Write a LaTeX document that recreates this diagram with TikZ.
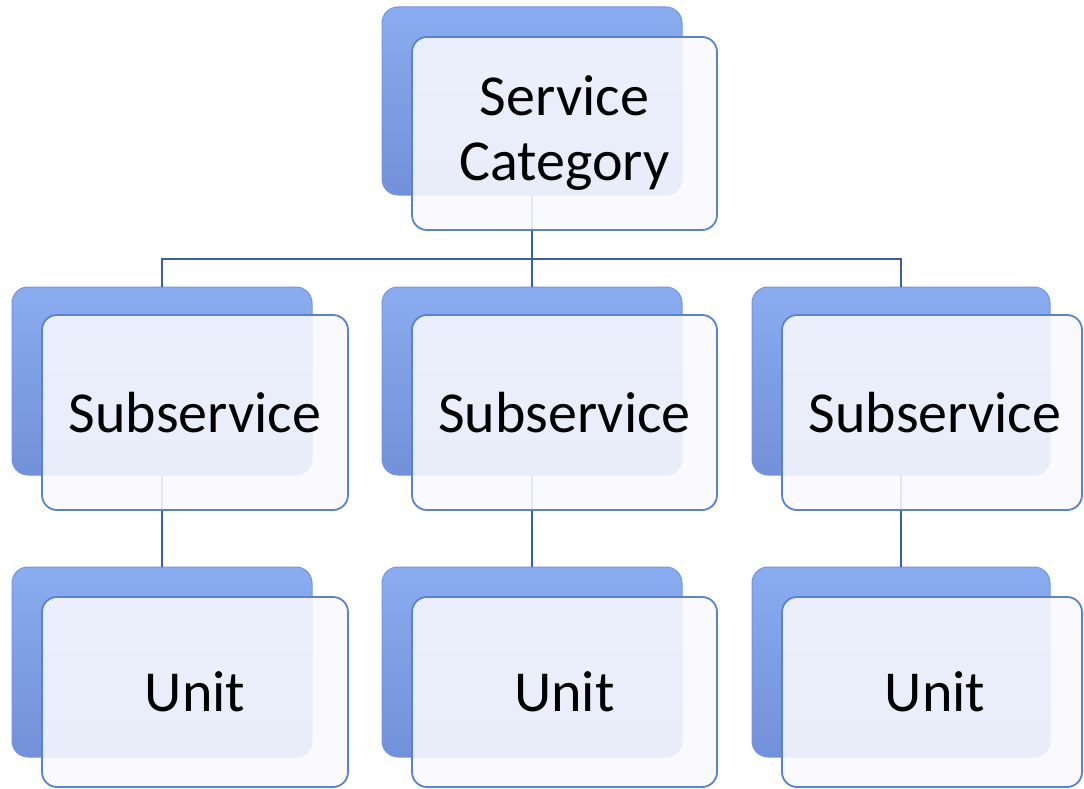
\documentclass[tikz,border=0pt]{standalone}
\usepackage{fontspec}
\setmainfont{Carlito}
\begin{document}
\begin{tikzpicture}[x=1pt,y=-1pt,
  backbox/.style={rounded corners=16pt, top color=blueTop, bottom color=blueBot,
    middle color=blueMid,
    draw=blueEdge, line width=1pt, minimum width=300pt, minimum height=188pt,
    inner sep=0pt, outer sep=0pt},
  frontbox/.style={rounded corners=15pt, fill=paper, fill opacity=0.88, text opacity=1,
    draw=frame, draw opacity=1, line width=1.8pt, minimum width=306pt, minimum height=194pt,
    inner sep=0pt, outer sep=0pt, align=center,
    font=\fontsize{58}{65}\selectfont},
  link/.style={draw=linkBlue, line width=2pt}]
\definecolor{blueTop}{HTML}{8CACF2}
\definecolor{blueMid}{HTML}{7E9EE4}
\definecolor{blueBot}{HTML}{7391DA}
\definecolor{blueEdge}{HTML}{7694DC}
\definecolor{paper}{HTML}{FAFAFE}
\definecolor{frame}{HTML}{5A82D2}
\definecolor{linkBlue}{HTML}{3C5EA8}

\useasboundingbox (0,0) rectangle (1084,789);
\fill[white] (0,0) rectangle (1084,789);

% shadow-like back plates
\node[backbox] (catback)  at (532,101) {};
\node[backbox] (sub1back) at (162,381) {};
\node[backbox] (sub2back) at (532,381) {};
\node[backbox, minimum width=298pt] (sub3back) at (901,381) {};
\node[backbox, minimum height=190pt] (unit1back) at (162,662) {};
\node[backbox, minimum height=190pt] (unit2back) at (532,662) {};
\node[backbox, minimum width=298pt, minimum height=190pt] (unit3back) at (901,662) {};

% tree connectors
\coordinate (bus) at (0,259);
\draw[link] (catback.south) -- (sub2back.north);
\draw[link] (sub1back.north) -- (sub1back.north |- bus) -- (sub3back.north |- bus) -- (sub3back.north);
\draw[link] (sub1back.south) -- (unit1back.north);
\draw[link] (sub2back.south) -- (unit2back.north);
\draw[link] (sub3back.south) -- (unit3back.north);

% labelled front cards
\node[frontbox, minimum width=305pt, minimum height=193pt] (cat) at (564.5,133.5) {Service\\Category};
\node[frontbox, minimum height=195pt] (sub1) at (195,412.5) {Subservice};
\node[frontbox, minimum width=305pt, minimum height=195pt] (sub2) at (564.5,412.5) {Subservice};
\node[frontbox, minimum width=300pt, minimum height=195pt] (sub3) at (932,412.5) {\hspace{6pt}Subservice};
\node[frontbox, minimum height=190pt] (unit1) at (195,692) {Unit};
\node[frontbox, minimum width=305pt, minimum height=190pt] (unit2) at (564.5,692) {Unit};
\node[frontbox, minimum width=300pt, minimum height=190pt] (unit3) at (932,692) {\hspace{6pt}Unit};
\end{tikzpicture}
\end{document}
